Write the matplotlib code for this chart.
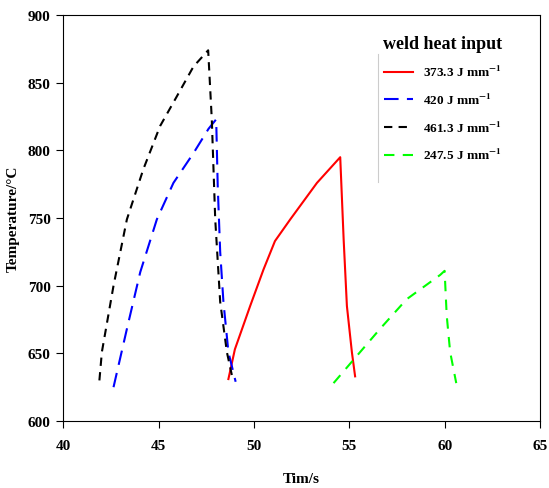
import numpy as np
import matplotlib.pyplot as plt

plt.rcParams['font.family'] = 'Liberation Serif'
plt.rcParams['font.weight'] = 'bold'
plt.rcParams['mathtext.fontset'] = 'stix'

# weld thermal cycles
t_373 = [48.66, 49.0, 49.8, 50.5, 51.1, 51.9, 53.3, 54.52, 54.7, 54.87, 55.13, 55.3]
T_373 = [631, 653, 685, 712, 733, 749, 776, 795, 734, 685, 651, 633]

t_420 = [42.64, 43.34, 44.04, 44.91, 45.78, 46.83, 47.62, 48.02, 48.1, 48.23, 48.4, 48.66, 49.04]
T_420 = [625, 668, 710, 749, 776, 798, 816, 823, 774, 725, 688, 651, 629]

t_461 = [41.9, 42.03, 42.64, 43.34, 44.2, 45.08, 45.96, 46.83, 47.6, 47.79, 47.97, 48.23, 48.58, 48.84]
T_461 = [630, 651, 700, 749, 786, 818, 840, 862, 874, 823, 749, 688, 651, 634]

t_247 = [54.17, 55.2, 56.6, 58.0, 59.76, 59.99, 60.1, 60.28, 60.6]
T_247 = [628, 645, 668, 690, 708, 711, 678, 651, 628]

fig = plt.figure(figsize=(5.49, 4.89), dpi=100)
ax = fig.add_axes([0.115, 0.137, 0.869, 0.83])

ax.plot(t_373, T_373, '-', color='red', lw=1.5, label=r'373.3 J mm$^{\mathbf{-1}}$')
ax.plot(t_420, T_420, '--', color='blue', lw=1.5, dashes=(7, 4), label=r'420 J mm$^{\mathbf{-1}}$')
ax.plot(t_461, T_461, '--', color='black', lw=1.5, dashes=(4, 3), label=r'461.3 J mm$^{\mathbf{-1}}$')
ax.plot(t_247, T_247, '--', color='#00ff00', lw=1.5, dashes=(5, 4), label=r'247.5 J mm$^{\mathbf{-1}}$')

ax.set_xlim(40, 65)
ax.set_ylim(600, 900)
ax.set_xticks(np.arange(40, 66, 5))
ax.set_yticks(np.arange(600, 901, 50))
ax.tick_params(axis='x', direction='out', length=5, labelsize=11, pad=8)
ax.tick_params(axis='y', direction='out', length=5, labelsize=11, pad=4)
for lab in ax.get_xticklabels() + ax.get_yticklabels():
    lab.set_fontweight('bold')

ax.set_xlabel('Tim/s', fontsize=11, fontweight='bold', labelpad=14)
ax.set_ylabel('Temperature/\u00b0C', fontsize=11, fontweight='bold', labelpad=6)

leg = ax.legend(loc='upper left', bbox_to_anchor=(0.66, 0.965), frameon=False,
                title='weld heat input', handlelength=2.2, fontsize=9.5,
                labelspacing=0.95, borderaxespad=0)
leg.get_title().set_fontsize(13)
leg.get_title().set_fontweight('bold')
for txt in leg.get_texts():
    txt.set_fontweight('bold')
ax.plot([0.66, 0.66], [0.589, 0.904], transform=ax.transAxes, color='#cccccc', lw=0.8)

plt.savefig('out.png', dpi=100)
